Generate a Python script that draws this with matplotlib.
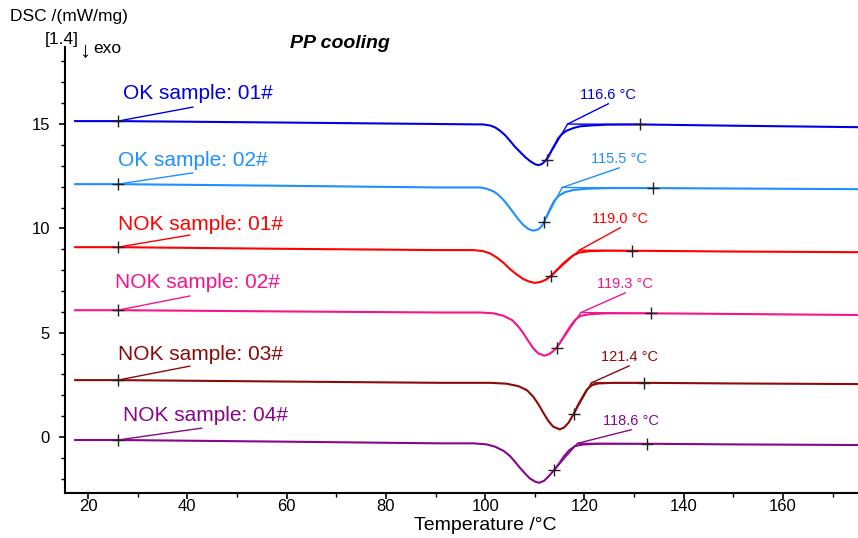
import matplotlib
matplotlib.use('Agg')
import matplotlib.pyplot as plt
from matplotlib.ticker import MultipleLocator

plt.rcParams['font.family'] = ['Liberation Sans', 'DejaVu Sans']

# curve data: temperature (°C) and DSC (mW/mg)
t_ok01 = [17.4, 26, 60, 90.9, 99.6, 101.0, 102.0, 103.0, 104.0, 105.0, 106.0, 107.0, 108.0, 109.0,
          110.0, 110.7, 111.4, 112.1, 112.7, 113.4, 114.1, 114.7, 115.4, 116.4, 117.8, 119.1, 121.1,
          124.5, 131.2, 150, 175]
y_ok01 = [15.14, 15.14, 15.07, 15.00, 14.98, 14.93, 14.84, 14.68, 14.47, 14.20, 13.91, 13.67, 13.43, 13.23,
          13.08, 13.03, 13.08, 13.23, 13.43, 13.75, 14.04, 14.31, 14.50, 14.68, 14.81, 14.89, 14.93,
          14.97, 14.98, 14.92, 14.85]

t_ok02 = [17.4, 26, 60, 90.9, 99.0, 100.3, 101.7, 102.7, 103.7, 104.7, 105.7, 106.7, 107.7, 108.7,
          109.7, 110.7, 111.4, 111.9, 112.5, 113.2, 113.9, 114.8, 116.1, 117.8, 120.5, 124.5, 133.9,
          150, 175]
y_ok02 = [12.12, 12.12, 12.04, 11.96, 11.96, 11.90, 11.77, 11.60, 11.36, 11.07, 10.75, 10.43, 10.16, 9.97,
          9.89, 9.95, 10.11, 10.32, 10.64, 11.00, 11.32, 11.56, 11.74, 11.84, 11.90, 11.93, 11.93,
          11.91, 11.88]

t_nok01 = [17.4, 26, 60, 90.9, 97.6, 99.6, 101.0, 102.3, 103.7, 105.0, 106.4, 107.7, 109.0, 110.0,
           111.1, 112.3, 113.3, 114.4, 115.6, 116.8, 117.8, 119.1, 121.1, 124.5, 129.5, 150, 175]
y_nok01 = [9.10, 9.10, 9.02, 8.96, 8.96, 8.91, 8.80, 8.61, 8.35, 8.05, 7.78, 7.57, 7.44, 7.39,
           7.43, 7.55, 7.73, 8.00, 8.29, 8.54, 8.72, 8.85, 8.91, 8.93, 8.93, 8.89, 8.86]

t_nok02 = [17.4, 26, 60, 90.9, 99.0, 101.7, 103.7, 105.4, 106.7, 107.7, 108.7, 109.7, 110.7, 111.9,
           112.9, 113.7, 114.4, 115.2, 116.1, 117.1, 118.1, 119.1, 121.1, 124.5, 133.4, 150, 175]
y_nok02 = [6.08, 6.08, 6.02, 5.97, 5.97, 5.93, 5.81, 5.61, 5.29, 4.97, 4.60, 4.25, 4.01, 3.90,
           3.98, 4.12, 4.28, 4.57, 4.92, 5.29, 5.61, 5.80, 5.89, 5.93, 5.93, 5.90, 5.85]

t_nok03 = [17.4, 26, 60, 90.9, 101.0, 104.3, 106.7, 108.4, 109.7, 110.7, 111.7, 112.7, 113.7, 115.0,
           115.9, 116.8, 117.8, 118.8, 119.7, 120.5, 121.5, 122.8, 125.8, 132.0, 150, 175]
y_nok03 = [2.73, 2.73, 2.66, 2.60, 2.60, 2.56, 2.44, 2.25, 1.93, 1.58, 1.17, 0.78, 0.50, 0.37,
           0.46, 0.69, 1.10, 1.58, 1.96, 2.28, 2.49, 2.57, 2.60, 2.60, 2.57, 2.54]

t_nok04 = [17.4, 26, 60, 90.9, 97.6, 100.3, 102.0, 103.7, 105.0, 106.0, 107.0, 108.0, 109.0, 110.1,
           110.9, 111.9, 112.7, 113.9, 115.0, 115.9, 117.0, 118.1, 119.8, 123.1, 132.5, 150, 175]
y_nok04 = [-0.14, -0.14, -0.22, -0.30, -0.30, -0.35, -0.46, -0.66, -0.91, -1.18, -1.47, -1.74, -1.98, -2.14,
           -2.19, -2.09, -1.90, -1.58, -1.23, -0.91, -0.62, -0.43, -0.35, -0.32, -0.32, -0.35, -0.38]

names = ['OK sample: 01#', 'OK sample: 02#', 'NOK sample: 01#', 'NOK sample: 02#',
         'NOK sample: 03#', 'NOK sample: 04#']
colors = ['#0000e6', '#1e8fff', '#ff0000', '#f5148c', '#8b0a0a', '#86078a']
temps = [t_ok01, t_ok02, t_nok01, t_nok02, t_nok03, t_nok04]
dscs = [y_ok01, y_ok02, y_nok01, y_nok02, y_nok03, y_nok04]

# onset evaluation: onset temp, baseline level, inflection point, end point
onset_t = [116.6, 115.5, 119.0, 119.3, 121.4, 118.6]
onset_y = [15.00, 11.96, 8.96, 5.97, 2.60, -0.30]
infl_t = [112.4, 111.9, 113.3, 114.4, 117.8, 113.9]
infl_y = [13.30, 10.32, 7.73, 4.28, 1.10, -1.58]
end_t = [131.2, 133.9, 129.5, 133.4, 132.0, 132.5]
end_y = [14.98, 11.93, 8.93, 5.93, 2.60, -0.32]
onset_lbl_x = [124.8, 127.0, 127.2, 128.2, 129.0, 129.4]
onset_lbl_y = [16.39, 13.32, 10.45, 7.33, 3.83, 0.77]

# sample name labels and their leader lines (start marker at 26 °C)
mark_t = 26
name_x = [27.0, 26.0, 26.0, 25.4, 26.0, 27.0]
name_y = [16.48, 13.27, 10.21, 7.43, 3.98, 1.05]
lead_x = [41.1, 41.1, 40.5, 40.5, 40.5, 42.9]
lead_y = [15.81, 12.66, 9.68, 6.76, 3.40, 0.43]

fig = plt.figure(figsize=(8.58, 5.38), dpi=100)
ax = fig.add_axes([0.0758, 0.0836, 0.9242, 0.829])

for i in range(len(names)):
    c = colors[i]
    ax.plot(temps[i], dscs[i], color=c, lw=1.5, zorder=3, solid_joinstyle='round')
    # tangent + baseline construction
    ax.plot([infl_t[i], onset_t[i], end_t[i]], [infl_y[i], onset_y[i], end_y[i]], color=c, lw=1.0, zorder=3)
    # onset label
    ax.plot([onset_t[i], onset_lbl_x[i]], [onset_y[i], onset_lbl_y[i] - 0.42], color=c, lw=1.0)
    ax.text(onset_lbl_x[i], onset_lbl_y[i], '%.1f °C' % onset_t[i], color=c, fontsize=10.5,
            ha='center', va='center')
    # start marker + name label
    y0 = dscs[i][temps[i].index(mark_t)]
    ax.plot([mark_t, lead_x[i]], [y0, lead_y[i]], color=c, lw=1.0)
    ax.text(name_x[i], name_y[i], names[i], color=c, fontsize=15, ha='left', va='center')
    ax.plot([mark_t, infl_t[i], end_t[i]], [y0, infl_y[i], end_y[i]], ls='none', marker='+',
            ms=8, mew=1.0, color='#222222', zorder=5)

ax.set_xlim(15.37, 175.1)
ax.set_ylim(-2.68, 18.69)
ax.xaxis.set_major_locator(MultipleLocator(20))
ax.xaxis.set_minor_locator(MultipleLocator(10))
ax.yaxis.set_major_locator(MultipleLocator(5))
ax.yaxis.set_minor_locator(MultipleLocator(1))
ax.tick_params(labelsize=12, width=1.2, length=4)
ax.tick_params(which='minor', width=1.0, length=3)
ax.tick_params(axis='x', pad=0.5)
ax.tick_params(axis='y', pad=7)
ax.spines['top'].set_visible(False)
ax.spines['right'].set_visible(False)
ax.spines['left'].set_linewidth(1.5)
ax.spines['bottom'].set_linewidth(1.5)

fig.text(0.012, 0.970, 'DSC /(mW/mg)', fontsize=12.5, ha='left', va='center')
fig.text(0.052, 0.926, '[1.4]', fontsize=12.5, ha='left', va='center')
fig.text(0.092, 0.905, '↓', fontsize=16, ha='left', va='center')
fig.text(0.109, 0.909, 'exo', fontsize=12.5, ha='left', va='center')
fig.text(0.396, 0.920, 'PP cooling', fontsize=14, fontweight='bold', fontstyle='italic',
         ha='center', va='center')
fig.text(0.565, 0.024, 'Temperature /°C', fontsize=14, ha='center', va='center')

fig.savefig('out.png', dpi=100)
